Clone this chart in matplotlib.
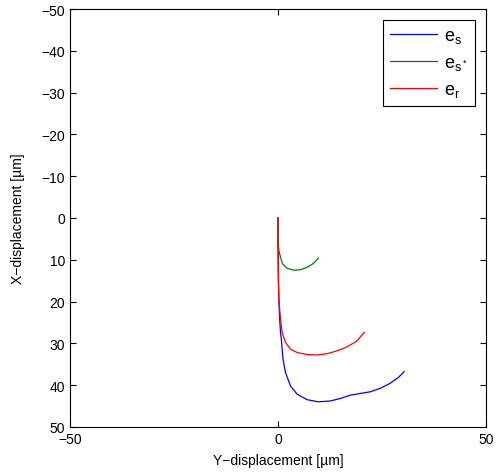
import matplotlib
matplotlib.use("Agg")
import matplotlib.pyplot as plt

plt.rcParams['font.family'] = ['Liberation Sans', 'DejaVu Sans']
plt.rcParams['mathtext.default'] = 'regular'
plt.rcParams['axes.unicode_minus'] = True

# curves: (Y-displacement, X-displacement) in um
es_y = [0, 0.0, 0.05, 0.1, 0.2, 0.3, 0.45, 0.6, 0.8, 1.2, 1.8, 3.0, 4.6, 7.0, 9.7,
        12.6, 15.0, 17.4, 19.8, 22.2, 24.5, 26.9, 28.9, 30.3]
es_x = [0, 5, 10, 15, 19.4, 22.0, 25.0, 27.4, 29.0, 33.8, 37.0, 40.2, 42.2, 43.5, 44.0,
        43.8, 43.2, 42.4, 42.0, 41.6, 40.8, 39.6, 38.2, 36.8]

ess_y = [0, 0.0, 0.05, 0.2, 0.6, 1.1, 2.1, 3.8, 5.4, 7.0, 8.5, 9.7]
ess_x = [0, 3.0, 6.2, 7.8, 9.4, 11.0, 12.0, 12.5, 12.4, 11.8, 10.9, 9.6]

er_y = [0, 0.0, 0.05, 0.1, 0.2, 0.6, 1.0, 1.8, 3.0, 4.6, 7.0, 9.4, 11.8, 14.2, 16.5,
        18.9, 20.7]
er_x = [0, 5, 10, 15, 19.4, 24.2, 27.4, 29.8, 31.4, 32.2, 32.7, 32.8, 32.5, 31.8, 30.9,
        29.5, 27.4]

fig = plt.figure(figsize=(4.96, 4.77), dpi=100)
ax = fig.add_axes([0.141, 0.103, 0.839, 0.876])

ax.plot(es_y, es_x, color='blue', lw=0.9, label='$e_s$')
ax.plot(ess_y, ess_x, color='#007f00', lw=0.9, label='$e_{s^*}$')
ax.plot(er_y, er_x, color='red', lw=0.9, label='$e_r$')

ax.set_xlim(-50, 50)
ax.set_ylim(50, -50)
ax.set_xticks([-50, 0, 50])
ax.set_yticks(range(-50, 51, 10))
ax.tick_params(direction='in', top=True, right=True, labelsize=10, length=4)
ax.set_xlabel('Y\u2212displacement [\u00b5m]', fontsize=10, labelpad=5)
ax.set_ylabel('X\u2212displacement [\u00b5m]', fontsize=10, labelpad=12)

leg = ax.legend(loc='upper right', fontsize=13, fancybox=False, framealpha=1,
                edgecolor='black', borderaxespad=0.6, handlelength=2.6,
                handletextpad=0.4, labelspacing=0.5)
leg.get_frame().set_linewidth(0.8)

fig.savefig('out.png', dpi=100)
